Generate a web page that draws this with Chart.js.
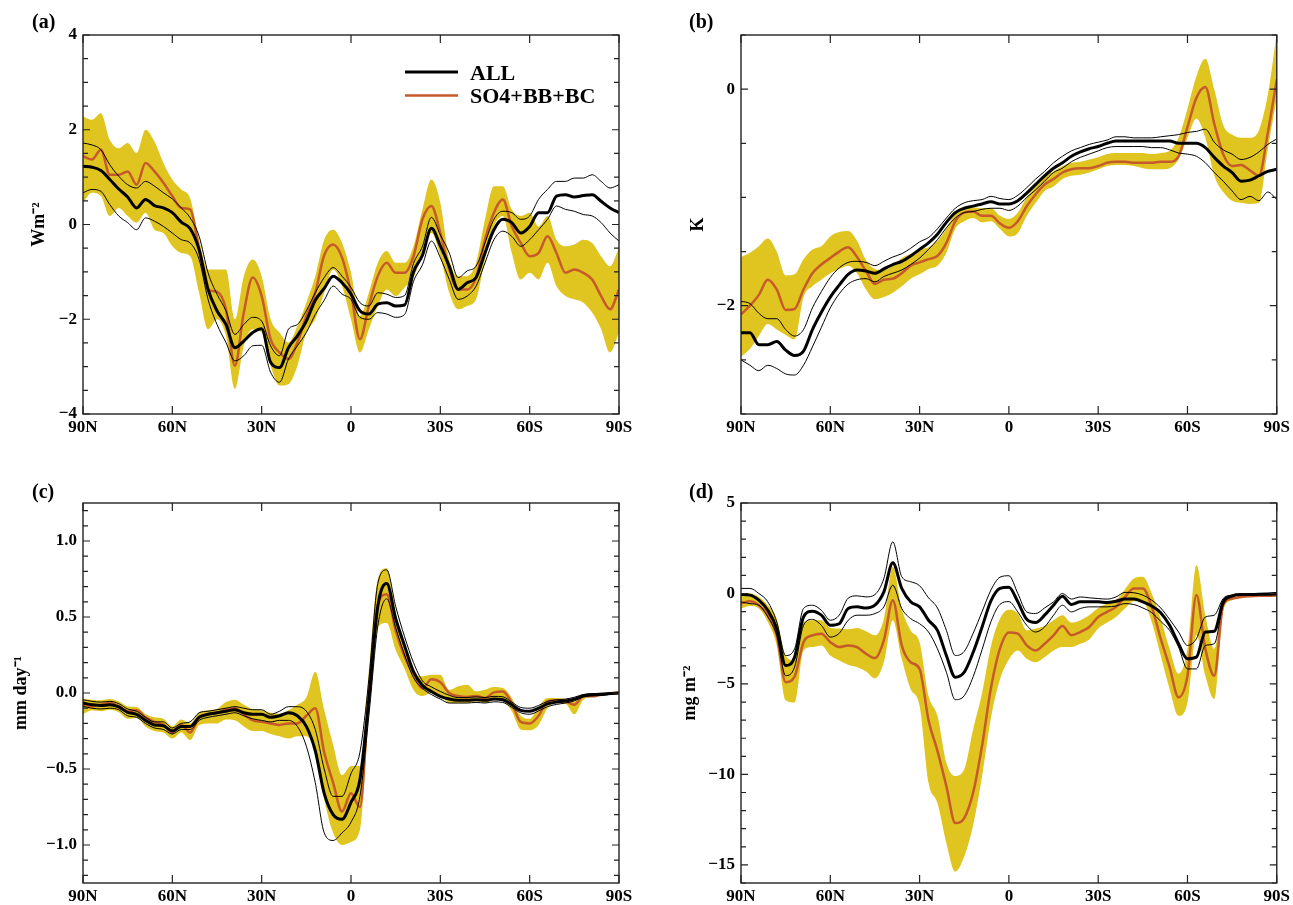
<!DOCTYPE html>
<html>
<head>
<meta charset="utf-8">
<title>Zonal mean responses</title>
<script src="https://cdn.jsdelivr.net/npm/chart.js@4.4.1/dist/chart.umd.min.js"></script>
<style>
  html, body { margin: 0; padding: 0; background: #fff; overflow: hidden; }
  body { width: 1293px; height: 905px; position: relative; }
  canvas { position: absolute; }
</style>
</head>
<body>
<canvas id="panelA" width="650" height="450" style="left:0px;top:0px"></canvas>
<canvas id="panelB" width="633" height="450" style="left:660px;top:0px"></canvas>
<canvas id="panelC" width="650" height="435" style="left:0px;top:470px"></canvas>
<canvas id="panelD" width="633" height="435" style="left:660px;top:470px"></canvas>
<script>
// latitude, 90N -> 90S
const lat = [90, 87, 84, 81, 78, 75, 72, 69, 66, 63,
  60, 57, 54, 51, 48, 45, 42, 39, 36, 33,
  30, 27, 24, 21, 18, 15, 12, 9, 6, 3,
  0, -3, -6, -9, -12, -15, -18, -21, -24, -27,
  -30, -33, -36, -39, -42, -45, -48, -51, -54, -57,
  -60, -63, -66, -69, -72, -75, -78, -81, -84, -87,
  -90];
const latTicks = [90, 60, 30, 0, -30, -60, -90];
const latTickLabels = ['90N', '60N', '30N', '0', '30S', '60S', '90S'];

// (a) Wm-2
const aAllMean = [1.23, 1.21, 1.14, 0.95, 0.75, 0.58, 0.35, 0.53, 0.40, 0.35,
  0.25, 0.05, -0.09, -0.53, -1.37, -1.82, -2.11, -2.60, -2.46, -2.28,
  -2.20, -2.91, -3.02, -2.60, -2.35, -2.04, -1.60, -1.35, -1.09, -1.23,
  -1.47, -1.82, -1.89, -1.68, -1.65, -1.72, -1.70, -1.00, -0.65, -0.08,
  -0.45, -0.88, -1.37, -1.23, -1.12, -0.60, -0.11, 0.11, 0.04, -0.18,
  -0.04, 0.25, 0.25, 0.60, 0.63, 0.58, 0.61, 0.63, 0.49, 0.35,
  0.25];
const aAllHi = [1.72, 1.68, 1.58, 1.26, 1.02, 0.84, 0.77, 0.91, 0.81, 0.67,
  0.54, 0.35, 0.14, -0.25, -1.02, -1.47, -1.82, -2.32, -2.11, -1.96,
  -2.04, -2.56, -2.77, -2.21, -2.11, -1.82, -1.44, -1.12, -0.91, -1.09,
  -1.33, -1.65, -1.72, -1.44, -1.47, -1.54, -1.50, -0.82, -0.46, 0.15,
  -0.22, -0.60, -1.12, -0.98, -0.88, -0.39, 0.11, 0.28, 0.25, 0.11,
  0.18, 0.53, 0.74, 0.91, 0.91, 0.98, 0.98, 1.05, 0.91, 0.77,
  0.84];
const aAllLo = [0.67, 0.74, 0.70, 0.42, 0.18, 0.04, -0.11, 0.14, 0.07, -0.04,
  -0.18, -0.32, -0.39, -0.74, -1.58, -2.11, -2.49, -2.88, -2.77, -2.56,
  -2.55, -3.12, -3.33, -2.84, -2.56, -2.28, -1.90, -1.60, -1.30, -1.47,
  -1.58, -1.96, -2.00, -1.86, -1.89, -1.96, -1.90, -1.20, -0.85, -0.35,
  -0.70, -1.16, -1.58, -1.51, -1.30, -0.81, -0.32, -0.14, -0.25, -0.46,
  -0.32, -0.11, 0.11, 0.39, 0.32, 0.28, 0.21, 0.18, 0.04, -0.18,
  -0.35];
const aAeroMean = [1.44, 1.37, 1.58, 1.05, 1.05, 1.12, 0.84, 1.30, 1.12, 0.88,
  0.60, 0.35, 0.32, -0.53, -1.37, -1.42, -1.79, -2.98, -1.86, -1.12,
  -1.51, -2.42, -2.70, -2.84, -2.49, -1.93, -1.44, -0.65, -0.42, -0.70,
  -1.44, -2.42, -1.72, -1.09, -0.81, -1.02, -1.02, -0.67, 0.11, 0.39,
  -0.18, -0.95, -1.37, -1.37, -1.12, -0.32, 0.25, 0.53, -0.04, -0.39,
  -0.67, -0.60, -0.25, -0.60, -1.02, -0.95, -1.02, -1.16, -1.51, -1.79,
  -1.37];
const aAeroHi = [2.28, 2.21, 2.35, 1.79, 1.61, 1.72, 1.51, 2.00, 1.75, 1.30,
  0.95, 0.74, 0.55, -0.32, -0.95, -0.95, -0.95, -2.00, -1.09, -0.74,
  -1.09, -2.00, -2.28, -2.49, -2.14, -1.65, -1.09, -0.32, -0.11, -0.39,
  -1.02, -1.93, -1.44, -0.81, -0.56, -0.81, -0.81, -0.46, 0.32, 0.95,
  0.46, -0.74, -1.09, -1.09, -0.81, 0.11, 0.81, 0.81, 0.32, 0.18,
  0.25, -0.04, 0.18, -0.32, -0.46, -0.42, -0.32, -0.39, -0.67, -0.88,
  -0.49];
const aAeroLo = [0.46, 0.67, 0.60, 0.18, 0.35, 0.18, 0.04, 0.25, -0.11, -0.18,
  -0.46, -0.60, -0.67, -1.44, -2.21, -2.00, -2.35, -3.47, -2.56, -2.21,
  -2.28, -2.98, -3.40, -3.37, -2.98, -2.28, -2.00, -1.44, -0.95, -1.30,
  -2.00, -2.70, -2.21, -1.72, -1.37, -1.51, -1.33, -1.12, -0.60, -0.18,
  -0.67, -1.44, -1.79, -1.72, -1.58, -0.74, -0.04, 0.18, -0.60, -1.16,
  -1.02, -1.16, -0.81, -1.30, -1.51, -1.58, -1.65, -1.86, -2.21, -2.70,
  -2.28];

// (b) K
const bAllMean = [-2.25, -2.25, -2.36, -2.36, -2.33, -2.41, -2.46, -2.42, -2.22, -2.06,
  -1.92, -1.81, -1.71, -1.67, -1.68, -1.70, -1.66, -1.62, -1.59, -1.54,
  -1.48, -1.42, -1.34, -1.23, -1.14, -1.10, -1.08, -1.06, -1.04, -1.06,
  -1.06, -1.03, -0.96, -0.88, -0.80, -0.73, -0.68, -0.62, -0.58, -0.55,
  -0.53, -0.50, -0.48, -0.48, -0.48, -0.48, -0.48, -0.48, -0.48, -0.50,
  -0.50, -0.50, -0.54, -0.63, -0.71, -0.77, -0.85, -0.84, -0.80, -0.76,
  -0.74];
const bAllHi = [-1.96, -1.98, -2.07, -2.12, -2.12, -2.22, -2.28, -2.22, -2.02, -1.87,
  -1.74, -1.65, -1.60, -1.59, -1.60, -1.63, -1.59, -1.55, -1.52, -1.47,
  -1.41, -1.37, -1.29, -1.19, -1.10, -1.05, -1.03, -1.02, -0.99, -1.01,
  -1.02, -0.98, -0.91, -0.83, -0.76, -0.68, -0.62, -0.57, -0.54, -0.51,
  -0.49, -0.47, -0.44, -0.44, -0.45, -0.45, -0.45, -0.44, -0.43, -0.42,
  -0.40, -0.39, -0.37, -0.49, -0.56, -0.60, -0.65, -0.63, -0.58, -0.51,
  -0.46];
const bAllLo = [-2.50, -2.55, -2.60, -2.55, -2.58, -2.63, -2.64, -2.55, -2.38, -2.20,
  -2.02, -1.89, -1.80, -1.76, -1.75, -1.78, -1.73, -1.70, -1.67, -1.62,
  -1.56, -1.48, -1.39, -1.28, -1.19, -1.14, -1.13, -1.11, -1.10, -1.10,
  -1.12, -1.08, -1.00, -0.93, -0.85, -0.77, -0.73, -0.67, -0.63, -0.60,
  -0.57, -0.54, -0.53, -0.53, -0.53, -0.53, -0.54, -0.54, -0.56, -0.59,
  -0.60, -0.62, -0.68, -0.77, -0.85, -0.94, -1.02, -0.99, -1.03, -0.95,
  -1.02];
const bAeroMean = [-2.08, -2.00, -1.90, -1.76, -1.85, -2.04, -2.03, -1.85, -1.70, -1.62,
  -1.56, -1.50, -1.46, -1.55, -1.68, -1.80, -1.76, -1.75, -1.70, -1.63,
  -1.60, -1.57, -1.54, -1.42, -1.22, -1.14, -1.13, -1.17, -1.17, -1.24,
  -1.28, -1.22, -1.08, -0.97, -0.88, -0.83, -0.77, -0.74, -0.73, -0.73,
  -0.71, -0.68, -0.67, -0.67, -0.68, -0.68, -0.68, -0.67, -0.67, -0.62,
  -0.35, -0.08, 0.02, -0.32, -0.60, -0.71, -0.70, -0.75, -0.80, -0.40,
  0.09];
const bAeroHi = [-1.55, -1.51, -1.45, -1.38, -1.50, -1.72, -1.71, -1.57, -1.48, -1.45,
  -1.36, -1.32, -1.31, -1.40, -1.58, -1.66, -1.67, -1.63, -1.56, -1.52,
  -1.48, -1.46, -1.40, -1.29, -1.14, -1.09, -1.09, -1.10, -1.10, -1.17,
  -1.20, -1.14, -1.00, -0.90, -0.80, -0.76, -0.71, -0.68, -0.67, -0.65,
  -0.63, -0.60, -0.59, -0.59, -0.59, -0.59, -0.60, -0.59, -0.57, -0.45,
  -0.18, 0.12, 0.28, 0.00, -0.33, -0.42, -0.45, -0.45, -0.38, -0.05,
  0.52];
const bAeroLo = [-2.47, -2.40, -2.28, -2.17, -2.22, -2.27, -2.31, -1.92, -1.82, -1.76,
  -1.70, -1.66, -1.63, -1.70, -1.85, -1.94, -1.92, -1.88, -1.82, -1.75,
  -1.71, -1.66, -1.63, -1.51, -1.29, -1.22, -1.19, -1.23, -1.22, -1.29,
  -1.36, -1.33, -1.17, -1.05, -0.94, -0.90, -0.83, -0.80, -0.79, -0.77,
  -0.74, -0.71, -0.70, -0.70, -0.71, -0.73, -0.74, -0.74, -0.73, -0.65,
  -0.45, -0.27, -0.45, -0.80, -0.95, -1.03, -1.05, -1.06, -1.05, -0.55,
  -0.08];

// (c) mm day-1
const cAllMean = [-0.066, -0.077, -0.083, -0.077, -0.092, -0.127, -0.14, -0.18, -0.21, -0.215,
  -0.25, -0.22, -0.22, -0.16, -0.14, -0.13, -0.12, -0.11, -0.13, -0.14,
  -0.14, -0.16, -0.15, -0.13, -0.15, -0.22, -0.38, -0.66, -0.80, -0.83,
  -0.72, -0.57, -0.04, 0.57, 0.72, 0.49, 0.31, 0.14, 0.05, 0.01,
  -0.022, -0.04, -0.048, -0.048, -0.044, -0.048, -0.04, -0.044, -0.077, -0.114,
  -0.12, -0.10, -0.072, -0.06, -0.053, -0.04, -0.018, -0.011, -0.009, -0.004,
  0];
const cAllHi = [-0.044, -0.055, -0.06, -0.055, -0.07, -0.105, -0.12, -0.16, -0.19, -0.19,
  -0.23, -0.20, -0.19, -0.13, -0.12, -0.11, -0.10, -0.09, -0.10, -0.11,
  -0.11, -0.14, -0.12, -0.09, -0.09, -0.12, -0.24, -0.50, -0.68, -0.68,
  -0.53, -0.39, 0.09, 0.72, 0.81, 0.57, 0.37, 0.20, 0.08, 0.04,
  0.01, -0.015, -0.03, -0.03, -0.025, -0.03, -0.022, -0.025, -0.06, -0.095,
  -0.10, -0.082, -0.055, -0.045, -0.04, -0.028, -0.01, -0.004, -0.002, 0.0,
  0.003];
const cAllLo = [-0.088, -0.10, -0.105, -0.10, -0.11, -0.15, -0.16, -0.20, -0.23, -0.24,
  -0.27, -0.24, -0.24, -0.18, -0.16, -0.15, -0.14, -0.13, -0.15, -0.17,
  -0.18, -0.19, -0.18, -0.18, -0.22, -0.35, -0.59, -0.92, -0.97, -0.92,
  -0.85, -0.68, -0.15, 0.44, 0.62, 0.43, 0.25, 0.10, 0.03, -0.01,
  -0.04, -0.066, -0.066, -0.066, -0.062, -0.066, -0.058, -0.062, -0.095, -0.13,
  -0.14, -0.118, -0.09, -0.075, -0.066, -0.052, -0.026, -0.018, -0.016, -0.008,
  -0.003];
const cAeroMean = [-0.077, -0.088, -0.077, -0.066, -0.088, -0.12, -0.114, -0.16, -0.19, -0.21,
  -0.26, -0.21, -0.26, -0.16, -0.14, -0.13, -0.11, -0.10, -0.14, -0.18,
  -0.19, -0.20, -0.21, -0.20, -0.20, -0.15, -0.10, -0.39, -0.59, -0.78,
  -0.66, -0.75, 0.0, 0.58, 0.65, 0.41, 0.24, 0.12, 0.03, 0.09,
  0.07, 0.0, -0.02, -0.026, -0.02, -0.033, 0.004, 0.01, -0.066, -0.19,
  -0.20, -0.15, -0.055, -0.048, -0.055, -0.077, -0.022, -0.022, -0.011, -0.004,
  0.004];
const cAeroHi = [-0.04, -0.044, -0.048, -0.04, -0.055, -0.088, -0.092, -0.14, -0.16, -0.17,
  -0.22, -0.175, -0.20, -0.127, -0.114, -0.105, -0.06, -0.044, -0.077, -0.105,
  -0.114, -0.13, -0.136, -0.114, -0.077, -0.03, 0.14, -0.11, -0.34, -0.54,
  -0.48, -0.48, 0.15, 0.75, 0.82, 0.53, 0.29, 0.14, 0.11, 0.12,
  0.12, 0.02, 0.044, 0.055, 0.011, 0.022, 0.04, 0.033, -0.033, -0.15,
  -0.17, -0.088, -0.033, -0.033, -0.04, -0.055, -0.011, -0.004, 0.0, 0.004,
  0.01];
const cAeroLo = [-0.14, -0.114, -0.12, -0.11, -0.127, -0.17, -0.164, -0.22, -0.25, -0.26,
  -0.30, -0.26, -0.31, -0.21, -0.20, -0.20, -0.175, -0.18, -0.22, -0.25,
  -0.25, -0.27, -0.285, -0.30, -0.285, -0.285, -0.39, -0.70, -0.92, -1.00,
  -0.98, -0.90, -0.13, 0.43, 0.46, 0.285, 0.16, 0.02, -0.02, 0.0,
  -0.01, -0.066, -0.066, -0.066, -0.055, -0.066, -0.044, -0.055, -0.12, -0.24,
  -0.245, -0.21, -0.10, -0.066, -0.07, -0.14, -0.044, -0.026, -0.018, -0.009,
  -0.004];

// (d) mg m-2
const dAllMean = [-0.06, -0.09, -0.37, -0.93, -1.94, -3.98, -3.52, -1.30, -0.98, -1.20,
  -1.76, -1.67, -0.83, -0.74, -0.80, -0.65, 0.09, 1.70, 0.28, -0.46,
  -0.74, -1.48, -2.04, -3.43, -4.63, -4.35, -3.25, -1.85, -0.40, 0.28,
  0.35, -0.46, -1.43, -1.61, -1.20, -0.65, -0.15, -0.61, -0.46, -0.46,
  -0.46, -0.50, -0.43, -0.31, -0.31, -0.46, -0.69, -1.06, -1.76, -2.78,
  -3.61, -3.52, -2.13, -2.09, -0.46, -0.13, -0.06, -0.06, -0.04, -0.04,
  -0.02];
const dAllHi = [0.28, 0.28, 0.0, -0.46, -1.57, -3.43, -3.06, -0.83, -0.65, -0.93,
  -1.48, -1.20, -0.26, -0.13, -0.19, -0.06, 0.83, 2.85, 0.93, 0.65,
  0.43, -0.24, -0.80, -2.04, -3.43, -3.20, -2.20, -1.00, 0.20, 0.90,
  0.98, 0.0, -1.02, -1.11, -0.80, -0.46, 0.0, -0.31, -0.19, -0.24,
  -0.28, -0.31, -0.19, 0.06, 0.04, -0.09, -0.37, -0.80, -1.43, -2.13,
  -2.87, -2.50, -1.30, -1.20, -0.28, -0.09, -0.04, -0.02, 0.0, 0.02,
  0.06];
const dAllLo = [-0.46, -0.56, -0.65, -1.30, -2.31, -4.54, -4.07, -1.76, -1.43, -1.76,
  -2.41, -2.20, -1.48, -1.20, -1.20, -1.11, -0.74, 0.46, -0.83, -1.39,
  -1.67, -2.13, -3.06, -4.35, -5.87, -5.65, -4.60, -3.10, -1.55, -0.60,
  -0.45, -1.02, -1.76, -2.13, -1.85, -1.20, -0.65, -1.02, -0.83, -0.74,
  -0.74, -0.74, -0.69, -0.56, -0.61, -0.80, -1.06, -1.54, -2.04, -2.96,
  -4.17, -4.17, -2.87, -2.78, -0.65, -0.19, -0.09, -0.07, -0.06, -0.06,
  -0.06];
const dAeroMean = [-0.56, -0.43, -0.65, -1.20, -2.31, -4.90, -4.60, -2.69, -2.31, -2.22,
  -2.69, -2.96, -2.87, -2.96, -3.33, -3.57, -2.59, -0.37, -2.87, -3.80,
  -4.17, -7.00, -8.70, -10.65, -12.69, -12.41, -11.00, -8.40, -5.20, -3.05,
  -2.15, -2.22, -2.87, -3.15, -2.78, -2.31, -1.80, -2.31, -2.13, -1.85,
  -1.30, -1.02, -0.74, -0.19, 0.28, 0.28, -0.74, -2.50, -4.07, -5.74,
  -4.54, -0.09, -3.06, -4.54, -0.65, -0.28, -0.19, -0.15, -0.13, -0.13,
  -0.11];
const dAeroHi = [-0.09, 0.0, -0.19, -0.65, -1.39, -3.43, -3.70, -1.57, -1.48, -1.48,
  -1.91, -1.94, -1.98, -1.91, -2.09, -2.31, -1.39, 1.48, -0.83, -2.04,
  -2.69, -5.65, -6.76, -9.35, -10.09, -9.72, -7.50, -5.50, -2.90, -1.40,
  -0.90, -1.11, -2.04, -1.94, -1.80, -1.48, -1.20, -1.61, -1.48, -1.20,
  -0.80, -0.56, -0.37, 0.24, 0.83, 0.93, 0.0, -1.39, -3.06, -4.44,
  -3.06, 1.57, -1.20, -3.06, -0.46, -0.20, -0.13, -0.09, -0.07, -0.06,
  -0.04];
const dAeroLo = [-0.83, -0.69, -0.83, -1.57, -2.87, -5.90, -6.02, -3.15, -2.96, -2.87,
  -3.43, -3.70, -3.94, -4.07, -4.31, -4.69, -3.80, -1.48, -3.61, -5.28,
  -6.20, -10.46, -11.57, -13.80, -15.37, -14.54, -12.80, -10.10, -6.85, -4.75,
  -3.65, -3.15, -3.61, -3.80, -3.52, -3.15, -2.96, -2.96, -2.78, -2.54,
  -1.94, -1.61, -1.30, -0.83, -0.43, -0.46, -1.57, -3.43, -5.28, -6.76,
  -6.02, -2.31, -4.54, -5.83, -0.93, -0.37, -0.24, -0.20, -0.19, -0.19,
  -0.17];

// y axis labelled ticks
const aMajor = [4, 2, 0, -2, -4];
const aMajorLabels = ['4', '2', '0', '\u22122', '\u22124'];
const bMajor = [0, -2];
const bMajorLabels = ['0', '\u22122'];
const cMajor = [1, 0.5, 0, -0.5, -1];
const cMajorLabels = ['1.0', '0.5', '0.0', '\u22120.5', '\u22121.0'];
const dMajor = [5, 0, -5, -10, -15];
const dMajorLabels = ['5', '0', '\u22125', '\u221210', '\u221215'];

const yellow = '#e0c41f';
const orange = '#c65a2a';
const serif = '"Liberation Serif", "Times New Roman", serif';

function pts(values) {
  return lat.map((v, i) => ({ x: v, y: values[i] }));
}

// frame, inward ticks, panel letter and (a)'s legend
const framePlugin = {
  id: 'frame',
  afterDraw(chart, args, opts) {
    const ctx = chart.ctx;
    const area = chart.chartArea;
    const x = chart.scales.x;
    const y = chart.scales.y;
    ctx.save();
    ctx.strokeStyle = '#222';
    ctx.lineWidth = 1.4;
    ctx.strokeRect(area.left, area.top, area.right - area.left, area.bottom - area.top);
    ctx.beginPath();
    x.ticks.forEach(t => {
      const px = x.getPixelForValue(t.value);
      ctx.moveTo(px, area.bottom); ctx.lineTo(px, area.bottom - 8);
      ctx.moveTo(px, area.top); ctx.lineTo(px, area.top + 8);
    });
    y.ticks.forEach(t => {
      const py = y.getPixelForValue(t.value);
      const len = t.label ? 7 : 5;
      ctx.moveTo(area.left, py); ctx.lineTo(area.left + len, py);
      ctx.moveTo(area.right, py); ctx.lineTo(area.right - len, py);
    });
    ctx.lineWidth = 1.2;
    ctx.stroke();

    ctx.fillStyle = '#000';
    ctx.textBaseline = 'alphabetic';
    ctx.font = 'bold 20px ' + serif;
    ctx.fillText(opts.label, opts.labelX, 28);

    if (opts.legend) {
      const ds = chart.data.datasets;
      ctx.lineCap = 'butt';
      ctx.strokeStyle = ds[0].borderColor;
      ctx.lineWidth = 3;
      ctx.beginPath(); ctx.moveTo(405, 72); ctx.lineTo(458, 72); ctx.stroke();
      ctx.strokeStyle = ds[3].borderColor;
      ctx.lineWidth = 2.5;
      ctx.beginPath(); ctx.moveTo(405, 95.5); ctx.lineTo(458, 95.5); ctx.stroke();
      ctx.font = 'bold 22px ' + serif;
      ctx.fillText(ds[0].label, 470, 80);
      ctx.fillText(ds[3].label, 470, 103);
    }
    ctx.restore();
  }
};

function makePanel(p) {
  const tickFont = { family: serif, size: 17, weight: 'bold' };
  const minor = [];
  for (let k = Math.ceil(p.yMin / p.step - 1e-9); k <= Math.floor(p.yMax / p.step + 1e-9); k++) {
    minor.push(Math.round(k * p.step * 1000) / 1000);
  }
  return new Chart(document.getElementById(p.id), {
    type: 'line',
    data: {
      datasets: [
        { label: 'ALL', data: pts(p.allMean), borderColor: '#000', borderWidth: 3 },
        { label: 'ALL max', data: pts(p.allHi), borderColor: '#000', borderWidth: 1 },
        { label: 'ALL min', data: pts(p.allLo), borderColor: '#000', borderWidth: 1 },
        { label: 'SO4+BB+BC', data: pts(p.aeroMean), borderColor: orange, borderWidth: 2.5 },
        { label: 'SO4+BB+BC max', data: pts(p.aeroHi), borderColor: 'rgba(0,0,0,0)', borderWidth: 0,
          backgroundColor: yellow, fill: '+1' },
        { label: 'SO4+BB+BC min', data: pts(p.aeroLo), borderColor: 'rgba(0,0,0,0)', borderWidth: 0 }
      ]
    },
    options: {
      responsive: false,
      animation: false,
      devicePixelRatio: 1,
      layout: { padding: { top: p.padTop, right: p.padRight, left: 0, bottom: 0 } },
      elements: {
        point: { radius: 0 },
        line: { cubicInterpolationMode: 'monotone', fill: false }
      },
      plugins: {
        legend: { display: false },
        tooltip: { enabled: false },
        frame: { label: p.label, labelX: p.labelX, legend: p.legend }
      },
      scales: {
        x: {
          type: 'linear', min: -90, max: 90, reverse: true,
          grid: { display: false, drawTicks: false },
          border: { display: false },
          afterBuildTicks: s => { s.ticks = latTicks.map(v => ({ value: v })); },
          afterFit: s => { s.height = p.xHeight; },
          ticks: {
            autoSkip: false, maxRotation: 0, padding: 3, color: '#000', font: tickFont,
            callback: v => latTickLabels[latTicks.indexOf(v)]
          }
        },
        y: {
          type: 'linear', min: p.yMin, max: p.yMax,
          grid: { display: false, drawTicks: false },
          border: { display: false },
          afterBuildTicks: s => { s.ticks = minor.map(v => ({ value: v })); },
          afterFit: s => { s.width = p.yWidth; },
          ticks: {
            autoSkip: false, padding: 6, color: '#000', font: tickFont,
            callback: v => {
              const i = p.major.findIndex(m => Math.abs(m - v) < 1e-6);
              return i < 0 ? '' : p.majorLabels[i];
            }
          },
          title: {
            display: true, text: p.title, color: '#000',
            font: { family: serif, size: 18, weight: 'bold' },
            padding: { top: p.titlePad, bottom: 0 }
          }
        }
      }
    },
    plugins: [framePlugin]
  });
}

makePanel({ id: 'panelA', label: '(a)', labelX: 32, legend: true,
  allMean: aAllMean, allHi: aAllHi, allLo: aAllLo, aeroMean: aAeroMean, aeroHi: aAeroHi, aeroLo: aAeroLo,
  yMin: -4, yMax: 4, step: 0.5, major: aMajor, majorLabels: aMajorLabels,
  title: 'Wm\u207B\u00B2', titlePad: 29, padTop: 35, padRight: 31, xHeight: 36, yWidth: 83 });

makePanel({ id: 'panelB', label: '(b)', labelX: 29, legend: false,
  allMean: bAllMean, allHi: bAllHi, allLo: bAllLo, aeroMean: bAeroMean, aeroHi: bAeroHi, aeroLo: bAeroLo,
  yMin: -3, yMax: 0.5, step: 0.5, major: bMajor, majorLabels: bMajorLabels,
  title: 'K', titlePad: 28, padTop: 35, padRight: 16, xHeight: 36, yWidth: 81 });

makePanel({ id: 'panelC', label: '(c)', labelX: 32, legend: false,
  allMean: cAllMean, allHi: cAllHi, allLo: cAllLo, aeroMean: cAeroMean, aeroHi: cAeroHi, aeroLo: cAeroLo,
  yMin: -1.25, yMax: 1.25, step: 0.1, major: cMajor, majorLabels: cMajorLabels,
  title: 'mm day\u207B\u00B9', titlePad: 11, padTop: 33, padRight: 31, xHeight: 22, yWidth: 83 });

makePanel({ id: 'panelD', label: '(d)', labelX: 29, legend: false,
  allMean: dAllMean, allHi: dAllHi, allLo: dAllLo, aeroMean: dAeroMean, aeroHi: dAeroHi, aeroLo: dAeroLo,
  yMin: -16, yMax: 5, step: 1, major: dMajor, majorLabels: dMajorLabels,
  title: 'mg m\u207B\u00B2', titlePad: 20, padTop: 33, padRight: 16, xHeight: 22, yWidth: 81 });
</script>
</body>
</html>
